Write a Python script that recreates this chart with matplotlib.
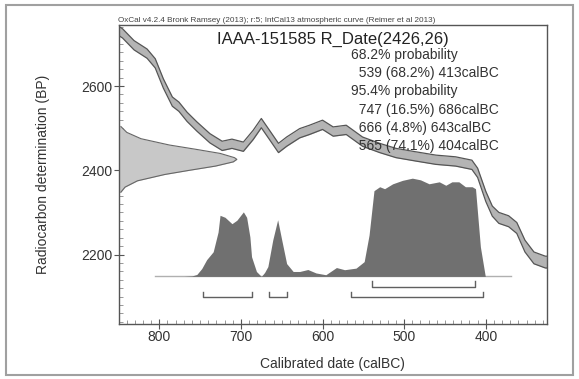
import matplotlib
matplotlib.use("Agg")
import matplotlib.pyplot as plt
from matplotlib.patches import Rectangle
from matplotlib.ticker import MultipleLocator
import numpy as np

plt.rcParams['font.family'] = ['Liberation Sans', 'DejaVu Sans']

# calibration curve (IntCal13), centre and half-width
curve_cal = [849, 845, 831, 815, 805, 795, 784, 776, 766, 754, 738, 723, 711, 697,
             685, 675, 665, 654, 644, 628, 616, 600, 587, 571, 551, 530, 510, 486,
             461, 437, 417, 410, 400, 392, 384, 372, 362, 352, 341, 327, 325]
curve_bp = [2730, 2725, 2697, 2677, 2654, 2606, 2563, 2551, 2527, 2504, 2476, 2458,
            2463, 2456, 2484, 2512, 2484, 2453, 2468, 2488, 2496, 2508, 2492, 2496,
            2468, 2453, 2441, 2433, 2425, 2421, 2413, 2394, 2338, 2303, 2287, 2279,
            2263, 2220, 2192, 2182, 2182]
curve_err = [11, 11, 11, 11, 11, 11, 11, 11, 11, 11, 11, 11, 11, 11, 11, 11, 11, 11,
             11, 11, 11, 11, 11, 11, 11, 11, 11, 11, 11, 11, 11, 11, 12, 12, 13, 13,
             13, 14, 14, 14, 14]

# radiocarbon date 2426 +/- 26 BP, relative density at each BP level
rdate_bp = [2504, 2490, 2475, 2460, 2450, 2440, 2430, 2426, 2420, 2410, 2400, 2390,
            2375, 2360, 2348]
rdate_p = [0.02, 0.07, 0.19, 0.43, 0.65, 0.86, 0.98, 1.0, 0.97, 0.82, 0.60,
           0.39, 0.16, 0.055, 0.02]

# calibrated distribution (relative probability)
cal_x = [805, 770, 760, 754, 748, 742, 734, 728, 725.6, 719.5, 711, 705, 697, 693, 689,
         687, 681, 675, 671, 667, 661, 655, 650, 644, 636, 628, 618, 608, 596, 583,
         573, 559, 549, 543, 537, 530, 524, 514, 502, 490, 480, 469.5, 457, 449,
         441.5, 433, 425, 416.7, 412.6, 406.6, 400.6, 369]
cal_p = [0, 0, 0.005, 0.02, 0.08, 0.17, 0.25, 0.45, 0.62, 0.60, 0.535, 0.57, 0.655, 0.60,
         0.40, 0.20, 0.05, 0.0, 0.04, 0.10, 0.37, 0.575, 0.37, 0.13, 0.05, 0.05, 0.07,
         0.035, 0.017, 0.09, 0.068, 0.084, 0.15, 0.42, 0.87, 0.91, 0.89, 0.94, 0.975,
         0.997, 0.98, 0.94, 0.96, 0.925, 0.96, 0.96, 0.91, 0.91, 0.89, 0.30, 0.0, 0.0]

ranges_68 = [(539, 413)]
ranges_95 = [(747, 686), (666, 643), (565, 404)]

info_lines = ["68.2% probability", "  539 (68.2%) 413calBC", "95.4% probability",
              "  747 (16.5%) 686calBC", "  666 (4.8%) 643calBC", "  565 (74.1%) 404calBC"]

W, H = 579, 379
fig = plt.figure(figsize=(W / 100, H / 100), dpi=100)
ax = fig.add_axes([118.5 / W, 1 - 324 / H, (547 - 118.5) / W, (324 - 25) / H])
ax.set_xlim(850, 325)
ax.set_ylim(2035, 2745)

cx = np.array(curve_cal)
cb = np.array(curve_bp)
ce = np.array(curve_err)
ax.fill_between(cx, cb - ce, cb + ce, color='#b4b4b4', lw=0, zorder=2)
ax.plot(cx, cb - ce, color='#555555', lw=0.9, zorder=3)
ax.plot(cx, cb + ce, color='#555555', lw=0.9, zorder=3)

# R_Date on the y axis
amp = 145
rx = 850 - amp * np.array(rdate_p)
ax.fill_betweenx(rdate_bp, 850, rx, color='#c8c8c8', lw=0, zorder=2)
ax.plot(rx, rdate_bp, color='#666666', lw=0.8, zorder=3)

# calibrated distribution
base = 2148
height = 234
ax.plot([805, 369], [base, base], color='#b0b0b0', lw=1, zorder=3)
ax.fill_between(cal_x, base, base + height * np.array(cal_p), color='#707070', lw=0, zorder=4)

# range brackets
for y, rng in [(2124, ranges_68), (2100, ranges_95)]:
    for a, b in rng:
        ax.plot([a, a, b, b], [y + 12, y, y, y + 12], color='#606060', lw=1, zorder=4)

ax.xaxis.set_major_locator(MultipleLocator(100))
ax.xaxis.set_minor_locator(MultipleLocator(10))
ax.yaxis.set_major_locator(MultipleLocator(200))
ax.yaxis.set_minor_locator(MultipleLocator(20))
ax.tick_params(which='major', direction='inout', length=7, width=0.8, color='#555555',
               labelsize=10, labelcolor='#333333', pad=1)
ax.tick_params(which='minor', direction='in', length=3, width=0.6, color='#888888')
for s in ax.spines.values():
    s.set_color('#555555')
    s.set_linewidth(1.0)

ax.set_xlabel("Calibrated date (calBC)", fontsize=10, color='#333333', labelpad=9)
ax.set_ylabel("Radiocarbon determination (BP)", fontsize=10, color='#333333', labelpad=22)

fig.text(118 / W, 1 - 20 / H, "OxCal v4.2.4 Bronk Ramsey (2013); r:5; IntCal13 atmospheric curve (Reimer et al 2013)",
         fontsize=5.9, color='#444444', va='center', ha='left')
fig.text(333 / W, 1 - 39 / H, "IAAA-151585 R_Date(2426,26)", fontsize=12,
         color='#222222', ha='center', va='center')
for i, line in enumerate(info_lines):
    fig.text(351 / W, 1 - (55 + 18.2 * i) / H, line, fontsize=10, color='#333333',
             ha='left', va='center', zorder=10)

fig.patches.append(Rectangle((6 / W, 1 - 375 / H), 567 / W, 370 / H, transform=fig.transFigure,
                             fill=False, edgecolor='#a0a0a0', lw=1.5))

fig.savefig("out.png", dpi=100)
